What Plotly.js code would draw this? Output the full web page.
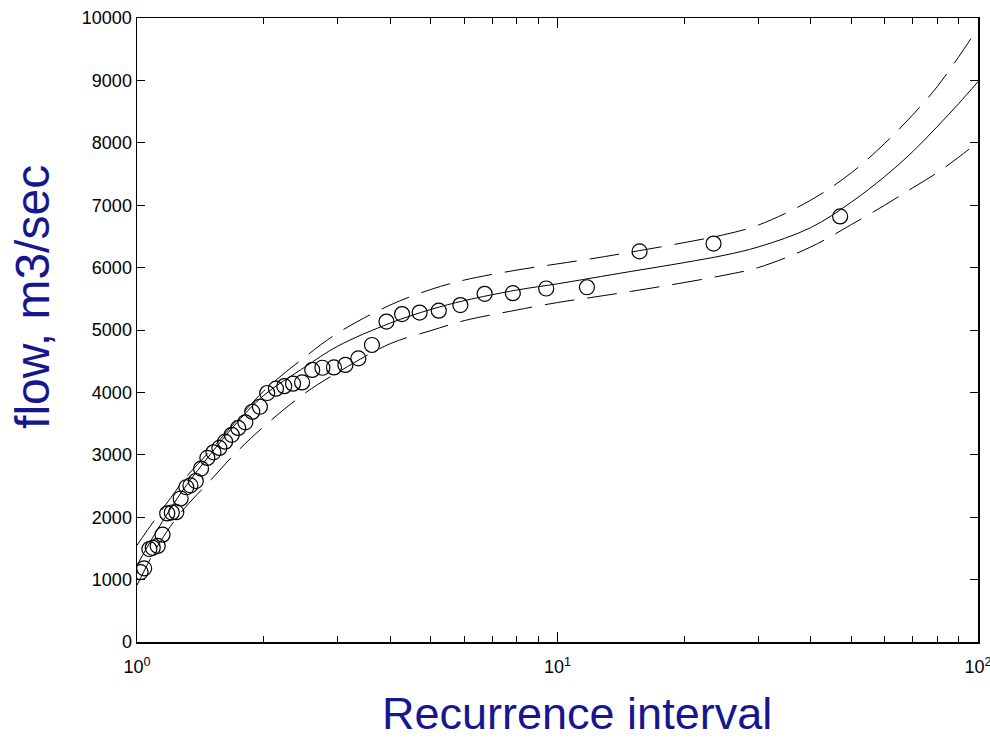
<!DOCTYPE html>
<html>
<head>
<meta charset="utf-8">
<script src="https://cdn.plot.ly/plotly-3.0.1.min.js"></script>
<style>html,body{margin:0;padding:0;background:#fff;}#chart{width:990px;height:738px;}</style>
</head>
<body>
<div id="chart"></div>
<script>
// Observed annual peak flows vs recurrence interval
const obsInterval = [47, 23.5, 15.67, 11.75, 9.4, 7.83, 6.71, 5.875, 5.22, 4.7, 4.27, 3.92, 3.62, 3.36, 3.13, 2.94, 2.76, 2.61, 2.47, 2.35, 2.24, 2.14, 2.04, 1.96, 1.88, 1.81, 1.74, 1.68, 1.62, 1.57, 1.52, 1.47, 1.42, 1.38, 1.34, 1.31, 1.27, 1.24, 1.21, 1.18, 1.15, 1.12, 1.09, 1.07, 1.04, 1.02];
const obsFlow = [6820, 6385, 6260, 5685, 5665, 5590, 5580, 5400, 5310, 5280, 5255, 5135, 4760, 4545, 4440, 4400, 4395, 4360, 4160, 4140, 4100, 4060, 3990, 3770, 3690, 3520, 3430, 3320, 3210, 3110, 3040, 2950, 2780, 2580, 2510, 2480, 2300, 2080, 2075, 2060, 1720, 1540, 1510, 1490, 1180, 1120];

// Fitted curve and confidence bounds
const fitInterval = [1, 1.1, 1.2, 1.3, 1.5, 1.7, 2, 2.5, 3, 4, 5, 6, 8, 10, 12, 15, 20, 25, 30, 40, 50, 60, 70, 80, 90, 100];
const fitFlow   = [1230, 1720, 2130, 2480, 3020, 3460, 3950, 4400, 4740, 5110, 5330, 5470, 5640, 5740, 5830, 5940, 6080, 6200, 6330, 6640, 7050, 7460, 7860, 8260, 8630, 8980];
const upperFlow = [1550, 1950, 2300, 2620, 3080, 3500, 4020, 4560, 4950, 5400, 5650, 5800, 5960, 6060, 6140, 6250, 6400, 6530, 6680, 7080, 7520, 7990, 8450, 8900, 9380, 9840];
const lowerFlow = [910, 1450, 1850, 2150, 2600, 3000, 3450, 3980, 4320, 4780, 4990, 5150, 5320, 5440, 5520, 5620, 5760, 5880, 6000, 6330, 6690, 7000, 7280, 7520, 7770, 8013];

const xTickVals = [1, 10, 100];
const xTickText = ['10<sup>0</sup>', '10<sup>1</sup>', '10<sup>2</sup>'];
const xMinorVals = [2, 3, 4, 5, 6, 7, 8, 9, 20, 30, 40, 50, 60, 70, 80, 90];

const tickFont = {family: '"Liberation Sans", Arial, sans-serif', size: 18, color: '#000'};
const titleFont = {family: '"Liberation Sans", Arial, sans-serif', color: '#16168f'};

const traces = [
  {x: fitInterval, y: upperFlow, mode: 'lines', line: {color: '#000', width: 1, dash: '30px,13px', shape: 'spline'}, hoverinfo: 'skip'},
  {x: fitInterval, y: lowerFlow, mode: 'lines', line: {color: '#000', width: 1, dash: '30px,13px', shape: 'spline'}, hoverinfo: 'skip'},
  {x: fitInterval, y: fitFlow, mode: 'lines', line: {color: '#000', width: 1, shape: 'spline'}},
  {x: obsInterval, y: obsFlow, mode: 'markers', marker: {symbol: 'circle-open', size: 15, color: '#000', line: {width: 1.2, color: '#000'}}}
];

const layout = {
  width: 990, height: 738,
  margin: {l: 137, r: 12, t: 18, b: 96},
  paper_bgcolor: '#fff', plot_bgcolor: '#fff',
  showlegend: false,
  xaxis: {
    type: 'log', range: [0, 2],
    tickmode: 'array', tickvals: xTickVals, ticktext: xTickText,
    ticks: 'inside', ticklen: 10, tickwidth: 1, tickcolor: '#000',
    minor: {tickmode: 'array', tickvals: xMinorVals, ticks: 'inside', ticklen: 6, tickwidth: 1, tickcolor: '#000', showgrid: false},
    showline: true, linecolor: '#000', linewidth: 1.5, mirror: 'allticks',
    showgrid: false, zeroline: false,
    ticklabeloverflow: 'allow', ticklabelstandoff: 8,
    tickfont: tickFont
  },
  yaxis: {
    range: [0, 10000], dtick: 1000, tick0: 0, tickformat: 'd',
    ticks: 'inside', ticklen: 8, tickwidth: 1, tickcolor: '#000',
    showline: true, linecolor: '#000', linewidth: 1.5, mirror: 'allticks',
    showgrid: false, zeroline: false,
    tickfont: tickFont
  },
  annotations: [
    {text: 'Recurrence interval', xref: 'paper', yref: 'paper', x: 0.5232, y: -0.1138,
     xanchor: 'center', yanchor: 'middle', showarrow: false, font: Object.assign({size: 45}, titleFont)},
    {text: 'flow, m3/sec', xref: 'paper', yref: 'paper', x: -0.1237, y: 0.5529, textangle: -90,
     xanchor: 'center', yanchor: 'middle', showarrow: false, font: Object.assign({size: 48}, titleFont)}
  ]
};

Plotly.newPlot('chart', traces, layout, {displayModeBar: false, staticPlot: true});
</script>
</body>
</html>
